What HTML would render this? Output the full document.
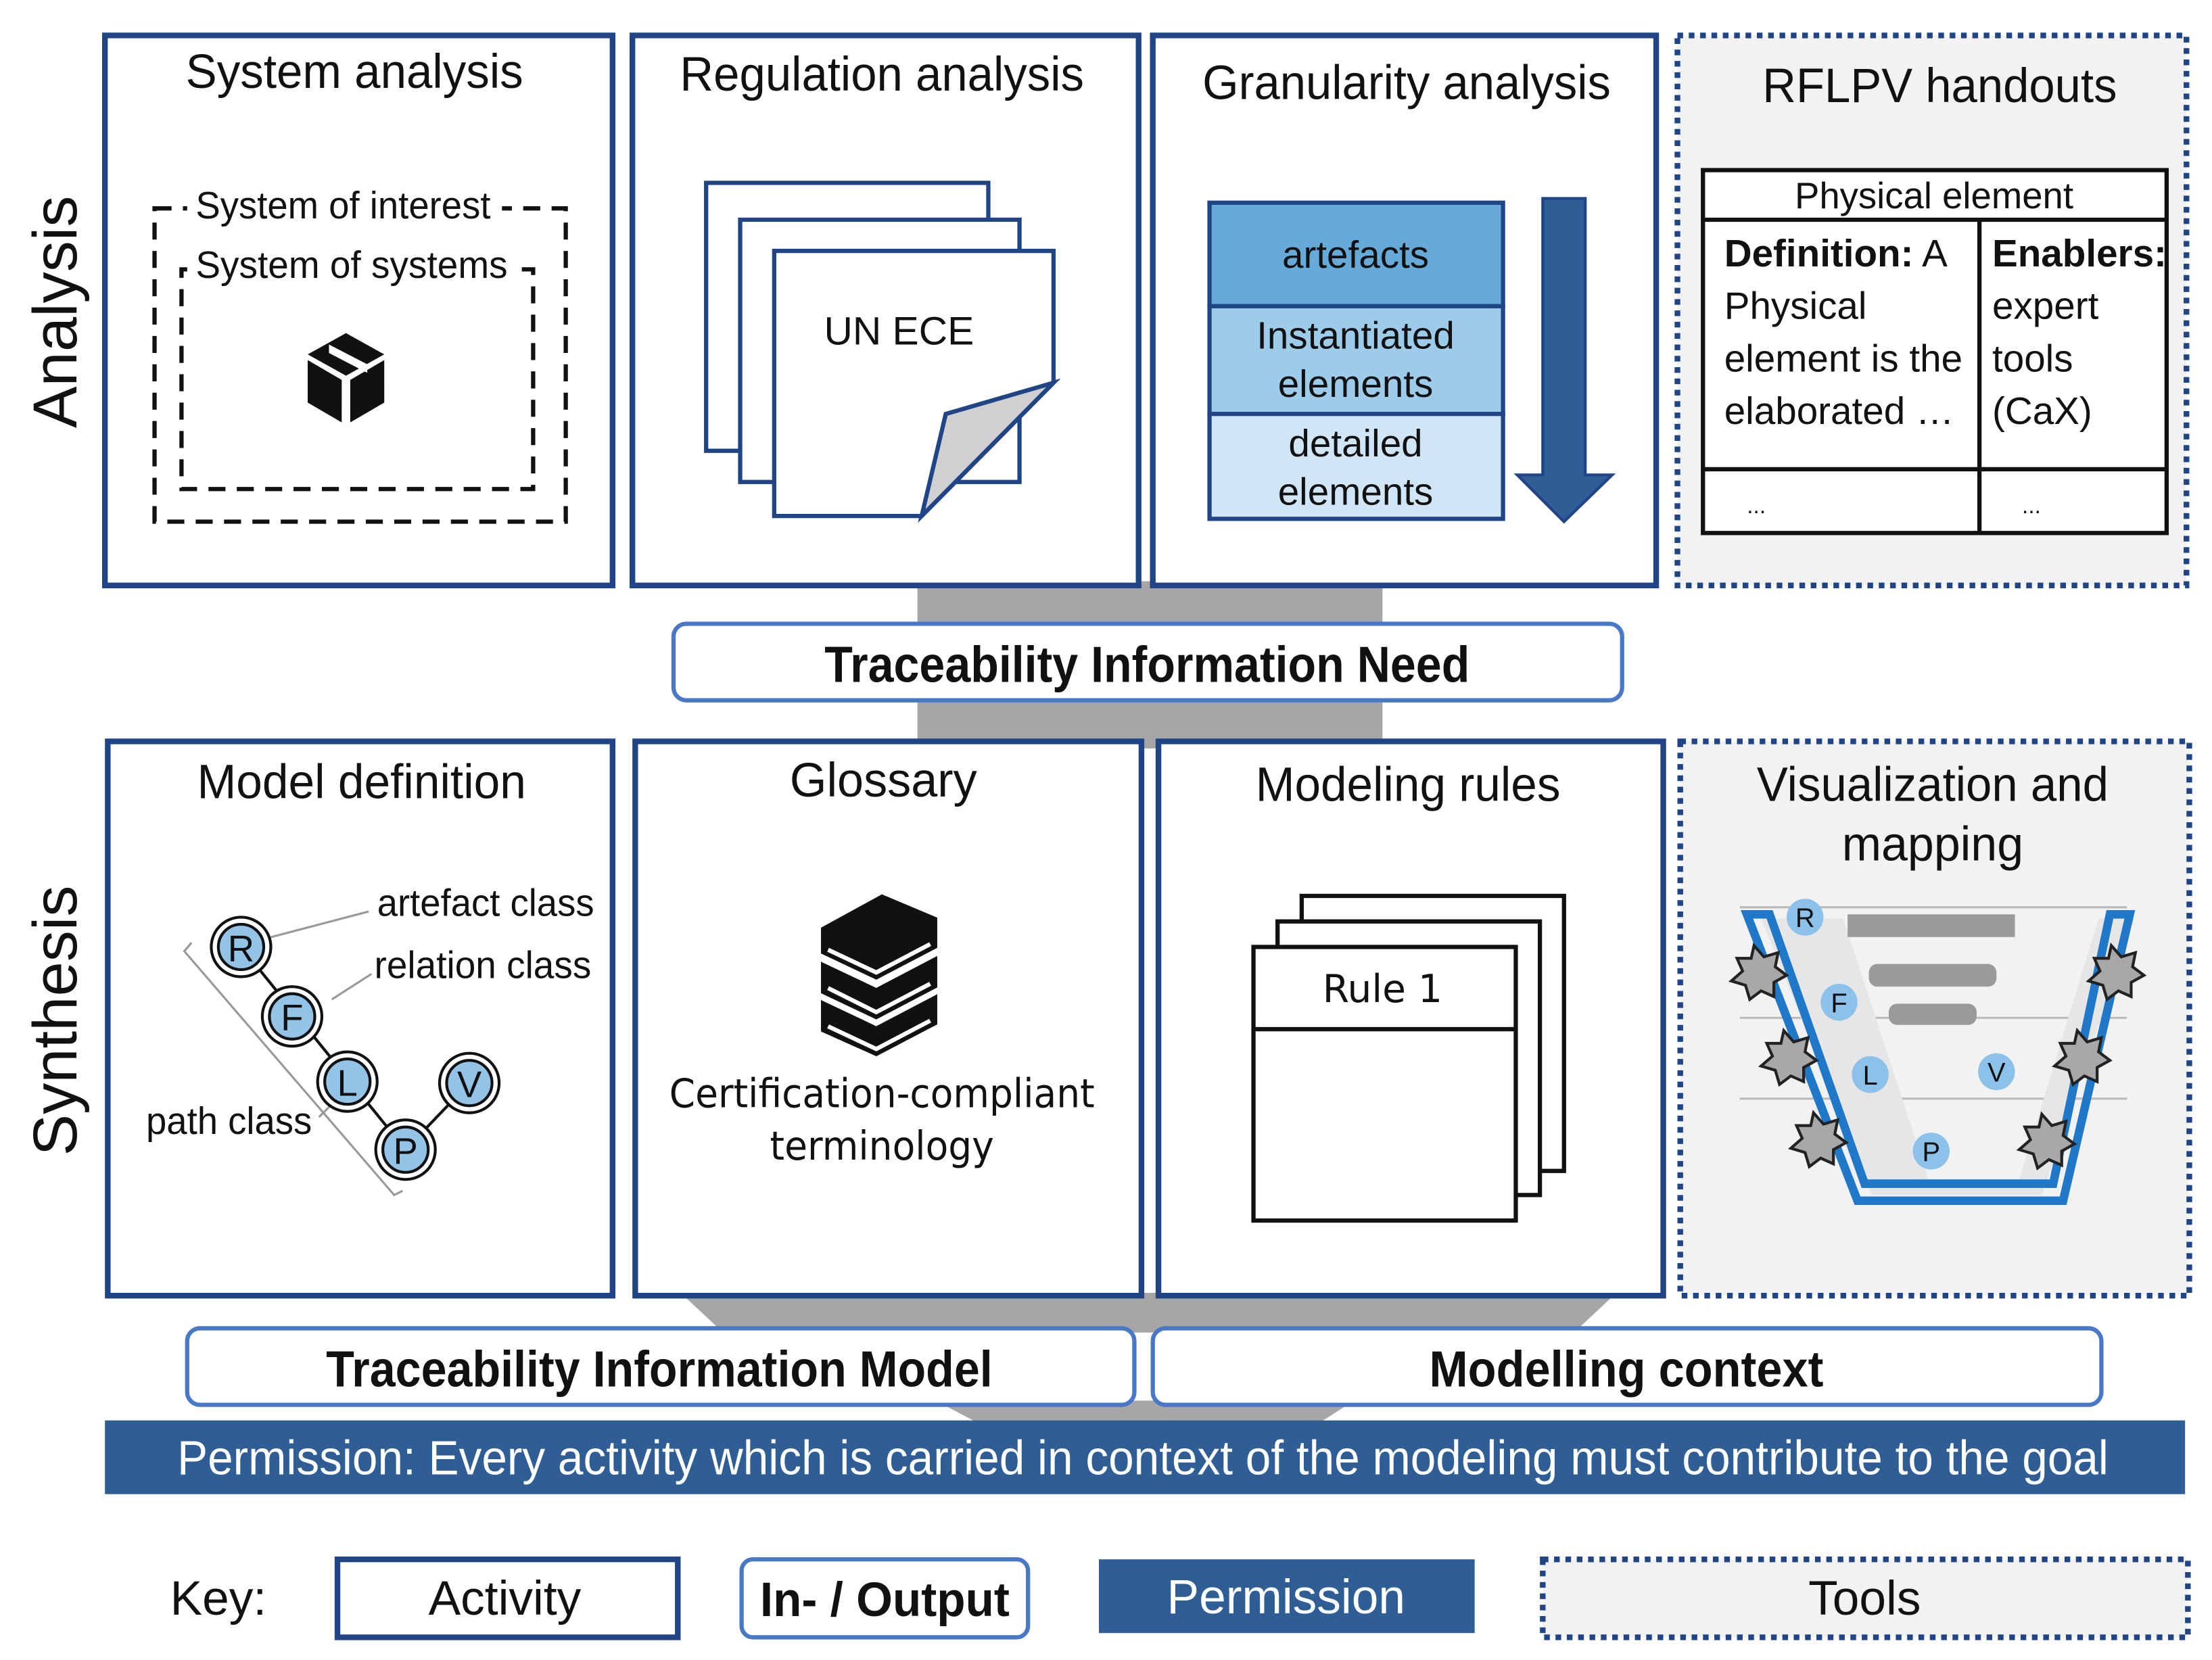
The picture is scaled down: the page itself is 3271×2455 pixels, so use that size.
<!DOCTYPE html>
<html><head><meta charset="utf-8"><style>html,body{margin:0;padding:0;background:#fff}svg{display:block}</style></head>
<body>
<svg width="3271" height="2455" viewBox="0 0 1560 1171" preserveAspectRatio="none" xmlns="http://www.w3.org/2000/svg" font-family="Liberation Sans, Arial, sans-serif">
<rect width="1560" height="1171" fill="#fff"/>
<!-- gray connectors -->
<rect x="647" y="410" width="328" height="118" fill="#a6a6a6"/>
<polygon points="480,912 1140,912 1110,940 510,940" fill="#a6a6a6"/>
<polygon points="660,988 955,988 930,1004 690,1004" fill="#a6a6a6"/>

<!-- side labels -->
<text transform="translate(54,220) rotate(-90)" font-size="44" text-anchor="middle" fill="#111">Analysis</text>
<text transform="translate(54,720) rotate(-90)" font-size="44" text-anchor="middle" fill="#111">Synthesis</text>

<g fill="#fff" stroke="#1f4587" stroke-width="4">
<rect x="74" y="25" width="358" height="388"/>
<rect x="446" y="25" width="357" height="388"/>
<rect x="813" y="25" width="355" height="388"/>
<rect x="76" y="523" width="356" height="391"/>
<rect x="448" y="523" width="357" height="391"/>
<rect x="817" y="523" width="356" height="391"/>
</g>
<g fill="#f2f2f2" stroke="#1f4587" stroke-width="4" stroke-dasharray="4,4">
<rect x="1183" y="25" width="359" height="388"/>
<rect x="1185" y="523" width="359" height="391"/>
</g>

<g font-size="34" fill="#111" text-anchor="middle">
<text x="250" y="62" textLength="238" lengthAdjust="spacingAndGlyphs">System analysis</text>
<text x="622" y="64" textLength="285" lengthAdjust="spacingAndGlyphs">Regulation analysis</text>
<text x="992" y="70" textLength="288" lengthAdjust="spacingAndGlyphs">Granularity analysis</text>
<text x="1368" y="72" textLength="250" lengthAdjust="spacingAndGlyphs">RFLPV handouts</text>
<text x="255" y="563" textLength="232" lengthAdjust="spacingAndGlyphs">Model definition</text>
<text x="623" y="562" textLength="132" lengthAdjust="spacingAndGlyphs">Glossary</text>
<text x="993" y="565" textLength="215" lengthAdjust="spacingAndGlyphs">Modeling rules</text>
<text x="1363" y="565" textLength="248" lengthAdjust="spacingAndGlyphs">Visualization and</text>
<text x="1363" y="607" textLength="128" lengthAdjust="spacingAndGlyphs">mapping</text>
</g>

<!-- System analysis -->
<g fill="none" stroke="#111" stroke-width="3" stroke-dasharray="12,8">
<rect x="109" y="147" width="290" height="221"/>
<rect x="128" y="190" width="248" height="155"/>
</g>
<rect x="132" y="130" width="222" height="30" fill="#fff"/>
<rect x="132" y="172" width="232" height="30" fill="#fff"/>
<text x="138" y="154" font-size="27" fill="#111" textLength="208" lengthAdjust="spacingAndGlyphs">System of interest</text>
<text x="138" y="196" font-size="27" fill="#111" textLength="220" lengthAdjust="spacingAndGlyphs">System of systems</text>
<g fill="#111">
<polygon points="244,235 271,250 244,265 217,250"/>
<polygon points="217,254 241,268 241,298 217,284"/>
<polygon points="247,268 271,254 271,284 247,298"/>
</g>
<polygon points="232,243 259,257 259,263 232,249" fill="#fff"/>

<!-- Regulation -->
<g stroke="#1f4587" stroke-width="3" fill="#fff">
<rect x="498" y="129" width="199" height="189"/>
<rect x="522" y="155" width="197" height="185"/>
<path d="M546,177 H743 V270 L650,364 H546 Z"/>
<path d="M650,364 L667,292 L743,270 Z" fill="#d0d0d0"/>
</g>
<text x="634" y="243" font-size="28" text-anchor="middle" fill="#111">UN ECE</text>

<!-- Granularity -->
<g stroke="#1f4587" stroke-width="3">
<rect x="853" y="143" width="207" height="73" fill="#65aad8"/>
<rect x="853" y="216" width="207" height="76" fill="#9dcbea"/>
<rect x="853" y="292" width="207" height="74" fill="#d0e6f6"/>
</g>
<g font-size="27" text-anchor="middle" fill="#111">
<text x="956" y="189">artefacts</text>
<text x="956" y="246">Instantiated</text>
<text x="956" y="280">elements</text>
<text x="956" y="322">detailed</text>
<text x="956" y="356">elements</text>
</g>
<polygon points="1088,140 1118,140 1118,335 1137,335 1103,368 1070,335 1088,335" fill="#2f5d96" stroke="#1f4587" stroke-width="2"/>

<!-- RFLPV table -->
<g stroke="#111" stroke-width="3" fill="none">
<rect x="1201" y="120" width="327" height="256" fill="#fff"/>
<line x1="1201" y1="155" x2="1528" y2="155"/>
<line x1="1201" y1="331" x2="1528" y2="331"/>
<line x1="1396" y1="155" x2="1396" y2="376"/>
</g>
<g font-size="27" fill="#111">
<text x="1364" y="147" text-anchor="middle" font-size="26">Physical element</text>
<text x="1216" y="188"><tspan font-weight="bold">Definition:</tspan> A</text>
<text x="1216" y="225">Physical</text>
<text x="1216" y="262">element is the</text>
<text x="1216" y="299">elaborated …</text>
<text x="1405" y="188" font-weight="bold">Enablers:</text>
<text x="1405" y="225">expert</text>
<text x="1405" y="262">tools</text>
<text x="1405" y="299">(CaX)</text>
<text x="1232" y="362" font-size="16">...</text>
<text x="1426" y="362" font-size="16">...</text>
</g>

<!-- Traceability Information Need -->
<rect x="475" y="440" width="669" height="54" rx="9" fill="#fff" stroke="#4a78c8" stroke-width="3"/>
<text x="809" y="481" font-size="36" font-weight="bold" text-anchor="middle" fill="#111" textLength="455" lengthAdjust="spacingAndGlyphs">Traceability Information Need</text>

<!-- Model definition -->
<g stroke="#999" stroke-width="1.5" fill="none">
<polyline points="135,665 130,671 278,843 284,840"/>
<line x1="180" y1="664" x2="260" y2="643"/>
<line x1="234" y1="705" x2="262" y2="687"/>
<line x1="225" y1="788" x2="233" y2="780"/>
</g>
<g stroke="#111" stroke-width="2">
<line x1="170" y1="668" x2="286" y2="811"/>
<line x1="286" y1="811" x2="331" y2="764"/>
</g>
<g stroke="#111" stroke-width="2" fill="#fff">
<circle cx="170" cy="668" r="21"/><circle cx="206" cy="717" r="21"/><circle cx="245" cy="763" r="21"/><circle cx="331" cy="764" r="21"/><circle cx="286" cy="811" r="21"/>
</g>
<g stroke="#111" stroke-width="2" fill="#93c4e8">
<circle cx="170" cy="668" r="16"/><circle cx="206" cy="717" r="16"/><circle cx="245" cy="763" r="16"/><circle cx="331" cy="764" r="16"/><circle cx="286" cy="811" r="16"/>
</g>
<g font-size="26" text-anchor="middle" fill="#111">
<text x="170" y="678">R</text><text x="206" y="727">F</text><text x="245" y="773">L</text><text x="331" y="774">V</text><text x="286" y="821">P</text>
</g>
<g font-size="27" fill="#111">
<text x="266" y="646" textLength="153" lengthAdjust="spacingAndGlyphs">artefact class</text>
<text x="264" y="690" textLength="153" lengthAdjust="spacingAndGlyphs">relation class</text>
<text x="103" y="800" textLength="117" lengthAdjust="spacingAndGlyphs">path class</text>
</g>

<!-- Glossary books -->
<g fill="#111" stroke="#111" stroke-width="2">
<path d="M580,655 L622,632 L660,648 L660,668 L618,690 L580,672 Z"/>
<path d="M580,680 L618,698 L660,676 L660,696 L618,718 L580,700 Z"/>
<path d="M580,707 L618,725 L660,703 L660,722 L618,744 L580,727 Z"/>
</g>
<g stroke="#fff" stroke-width="3" fill="none">
<path d="M584,670 L618,686 L656,666"/>
<path d="M584,697 L618,714 L656,694"/>
<path d="M584,724 L618,740 L656,720"/>
</g>
<g font-size="28" text-anchor="middle" fill="#111" font-family="DejaVu Sans, Liberation Sans, sans-serif">
<text x="622" y="781" textLength="300" lengthAdjust="spacingAndGlyphs">Certification-compliant</text>
<text x="622" y="818" textLength="158" lengthAdjust="spacingAndGlyphs">terminology</text>
</g>

<!-- Modeling rules -->
<g stroke="#111" stroke-width="3" fill="#fff">
<rect x="918" y="632" width="185" height="194"/>
<rect x="901" y="650" width="185" height="193"/>
<rect x="884" y="668" width="185" height="193"/>
<line x1="884" y1="726" x2="1069" y2="726"/>
</g>
<text x="975" y="707" font-size="27" text-anchor="middle" fill="#111" font-family="DejaVu Sans, Liberation Sans, sans-serif">Rule 1</text>

<!-- Visualization V -->
<g stroke="#bbb" stroke-width="1.5">
<line x1="1227" y1="640" x2="1500" y2="640"/>
<line x1="1227" y1="718" x2="1500" y2="718"/>
<line x1="1227" y1="775" x2="1500" y2="775"/>
</g>
<polygon points="1242,648 1300,648 1360,832 1424,832 1480,648 1505,648 1440,843 1320,843" fill="#e6e6e6"/>
<polygon points="1232,645 1248,645 1315,835 1448,835 1488,645 1502,645 1455,847 1310,847" fill="none" stroke="#1f78c8" stroke-width="6"/>
<g fill="#9a9a9a">
<rect x="1303" y="645" width="118" height="16"/>
<rect x="1318" y="680" width="90" height="16" rx="6"/>
<rect x="1332" y="708" width="62" height="15" rx="6"/>
</g>
<g fill="#a8a8a8" stroke="#222" stroke-width="2">
<polygon points="1237,667 1244,675 1254,672 1252,682 1260,688 1251,693 1251,703 1242,699 1234,705 1231,695 1221,692 1229,685 1225,676 1235,676"/>
<polygon points="1258,727 1265,735 1275,732 1273,742 1281,748 1272,753 1272,763 1263,759 1255,765 1252,755 1242,752 1250,745 1246,736 1256,736"/>
<polygon points="1279,785 1286,793 1296,790 1294,800 1302,806 1293,811 1293,821 1284,817 1276,823 1273,813 1263,810 1271,803 1267,794 1277,794"/>
<polygon points="1489,667 1496,675 1506,672 1504,682 1512,688 1503,693 1503,703 1494,699 1486,705 1483,695 1473,692 1481,685 1477,676 1487,676"/>
<polygon points="1465,727 1472,735 1482,732 1480,742 1488,748 1479,753 1479,763 1470,759 1462,765 1459,755 1449,752 1457,745 1453,736 1463,736"/>
<polygon points="1440,786 1447,794 1457,791 1455,801 1463,807 1454,812 1454,822 1445,818 1437,824 1434,814 1424,811 1432,804 1428,795 1438,795"/>
</g>
<g fill="#8cc2ea">
<circle cx="1273" cy="647" r="13"/><circle cx="1297" cy="707" r="13"/><circle cx="1319" cy="758" r="13"/><circle cx="1408" cy="756" r="13"/><circle cx="1362" cy="812" r="13"/>
</g>
<g font-size="19" text-anchor="middle" fill="#111">
<text x="1273" y="654">R</text><text x="1297" y="714">F</text><text x="1319" y="765">L</text><text x="1408" y="763">V</text><text x="1362" y="819">P</text>
</g>

<!-- outputs -->
<g fill="#fff" stroke="#4a78c8" stroke-width="3">
<rect x="132" y="937" width="668" height="54" rx="9"/>
<rect x="813" y="937" width="669" height="54" rx="9"/>
</g>
<g font-size="36" font-weight="bold" text-anchor="middle" fill="#111">
<text x="465" y="978" textLength="470" lengthAdjust="spacingAndGlyphs">Traceability Information Model</text>
<text x="1147" y="978" textLength="278" lengthAdjust="spacingAndGlyphs">Modelling context</text>
</g>

<!-- Permission bar -->
<rect x="74" y="1002" width="1467" height="52" fill="#2f5d96"/>
<text x="806" y="1040" font-size="34" text-anchor="middle" fill="#fff" textLength="1362" lengthAdjust="spacingAndGlyphs">Permission: Every activity which is carried in context of the modeling must contribute to the goal</text>

<!-- Key -->
<text x="120" y="1139" font-size="34" fill="#111">Key:</text>
<rect x="238" y="1100" width="240" height="55" fill="#fff" stroke="#1f4587" stroke-width="4"/>
<text x="356" y="1139" font-size="34" text-anchor="middle" fill="#111">Activity</text>
<rect x="523" y="1100" width="202" height="55" rx="8" fill="#fff" stroke="#4a78c8" stroke-width="3"/>
<text x="624" y="1140" font-size="34" font-weight="bold" text-anchor="middle" fill="#111" textLength="176" lengthAdjust="spacingAndGlyphs">In- / Output</text>
<rect x="775" y="1100" width="265" height="52" fill="#2f5d96"/>
<text x="907" y="1138" font-size="34" text-anchor="middle" fill="#fff">Permission</text>
<rect x="1088" y="1100" width="455" height="55" fill="#f2f2f2" stroke="#1f4587" stroke-width="4" stroke-dasharray="4,4"/>
<text x="1315" y="1139" font-size="34" text-anchor="middle" fill="#111">Tools</text>
</svg>
</body></html>
